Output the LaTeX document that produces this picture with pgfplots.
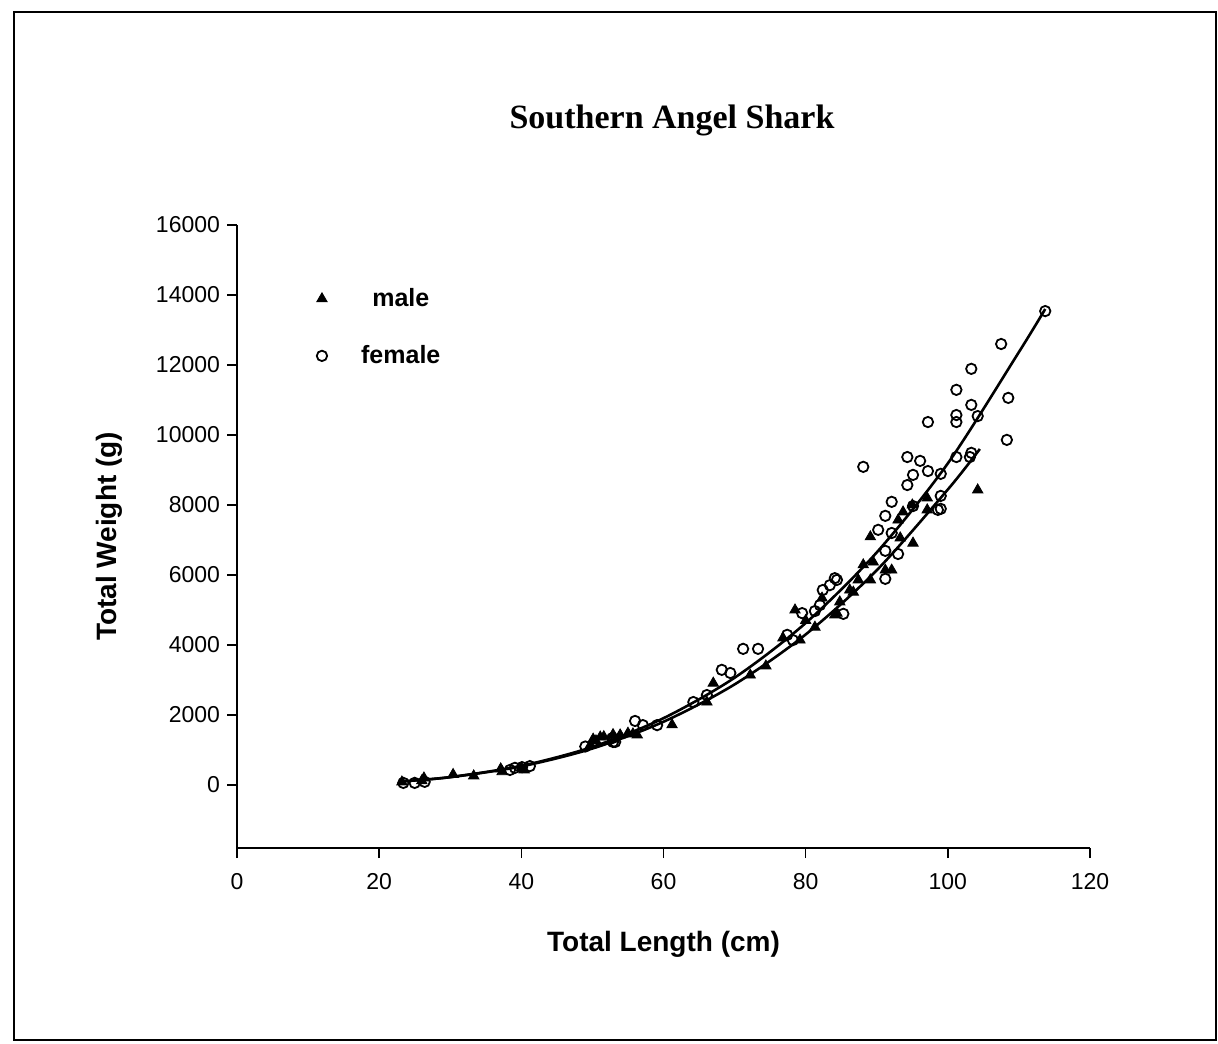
\documentclass[border=0pt]{standalone}
\usepackage{fontspec}
\setmainfont{Liberation Sans}
\newfontfamily\titlefont{Liberation Serif}
\usepackage{pgfplots}
\pgfplotsset{compat=1.18}
\begin{document}
\begin{tikzpicture}[x=1pt,y=1pt]
\path (0,0) rectangle (609,521.5);
\draw[line width=0.8pt] (7,1.5) rectangle (608,515.5);
\node[font=\titlefont\bfseries\fontsize{17}{20}\selectfont] at (336,461.5) {Southern Angel Shark};
\begin{axis}[
  at={(118.5pt,97.5pt)}, anchor=south west,
  width=426.5pt, height=311.5pt, scale only axis,
  xmin=0, xmax=120, ymin=-1800, ymax=16000,
  axis x line*=bottom, axis y line*=left,
  axis line style={line width=0.9pt},
  xtick={0,20,...,120}, ytick={0,2000,...,16000},
  tick align=outside, major tick length=5pt,
  tick style={line width=0.8pt, black},
  /pgf/number format/assume math mode=true,
  /pgf/number format/1000 sep={},
  scaled y ticks=false,
  ticklabel style={font=\fontsize{11.5}{13}\selectfont},
  xticklabel style={yshift=-4pt},
  xlabel={Total Length (cm)}, ylabel={Total Weight (g)},
  label style={font=\bfseries\fontsize{14}{16}\selectfont},
  xlabel style={yshift=-14pt},
  ylabel style={yshift=10pt},
  clip=false,
  legend style={draw=none, fill=none, at={(0.086,0.912)}, anchor=north west,
    font=\bfseries\fontsize{12.5}{14}\selectfont, row sep=14pt,
    /tikz/every odd column/.style={column sep=15pt}},
  legend cell align=center,
]
\addplot[only marks, mark=triangle*, mark size=3pt, black] coordinates {
(23.2,86) (26.3,200) (26.0,120) (30.4,300) (33.3,260) (37.1,460) (37.3,380)
(40.0,490) (40.4,430) (49.7,1140) (50.1,1310) (50.5,1260) (51.1,1370) (51.6,1380)
(52.9,1440) (53.9,1430) (55.0,1480) (55.7,1460) (56.3,1430) (61.2,1720) (66.1,2370)
(67.0,2910) (72.2,3140) (74.4,3400) (76.8,4200) (78.5,5000) (79.2,4140) (80.0,4700)
(81.3,4510) (82.3,5340) (84.1,4860) (84.4,4910) (84.8,5230) (86.2,5570) (86.7,5510)
(87.4,5860) (88.1,6290) (89.1,5860) (89.1,7090) (89.5,6370) (91.2,6140) (92.1,6140)
(93.0,7570) (93.3,7060) (93.7,7800) (95.0,8000) (95.1,6910) (97.1,8200) (97.1,7860)
(104.2,8430)
};
\addlegendentry{male}
\addplot[only marks, mark=o, mark size=2.6pt, mark options={line width=0.9pt}, black] coordinates {
(23.4,60) (25.0,60) (26.4,90) (38.4,430) (39.1,490) (40.1,510) (41.2,540)
(49.0,1100) (52.8,1340) (52.9,1230) (53.2,1230) (56.0,1830) (57.1,1710) (59.1,1710)
(64.2,2370) (66.1,2570) (68.2,3290) (69.4,3200) (71.2,3890) (73.3,3890) (77.4,4290)
(78.2,4140) (79.5,4910) (81.3,4970) (82.0,5140) (82.4,5570) (83.4,5710) (84.1,5910)
(84.4,5860) (85.3,4890) (88.1,9090) (90.2,7290) (91.2,7690) (91.2,6690) (91.2,5890)
(92.1,8090) (92.1,7200) (93.0,6600) (94.3,9370) (94.3,8570) (95.1,8860) (95.1,7970)
(96.1,9260) (97.2,8970) (97.2,10370) (98.6,7860) (99.0,8890) (99.0,8260) (99.0,7890)
(101.2,11290) (101.2,10570) (101.2,10370) (101.2,9370) (103.3,11890) (103.3,10860)
(103.3,9490) (103.1,9370) (104.2,10540) (107.5,12600) (108.3,9860) (108.5,11060)
(113.7,13540)
};
\addlegendentry{female}
\addplot[smooth, line width=1.3pt, black, forget plot] coordinates {
(23,100) (30,226) (40,548) (50,1088) (60,1909) (70,3065) (80,4628) (90,6646)
(100,9190) (110,12370) (113.7,13600)
};
\addplot[smooth, line width=1.3pt, black, forget plot] coordinates {
(23,100) (30,223) (40,532) (50,1042) (60,1807) (70,2874) (80,4301) (90,6136)
(100,8443) (104.5,9600)
};
\end{axis}
\end{tikzpicture}
\end{document}
